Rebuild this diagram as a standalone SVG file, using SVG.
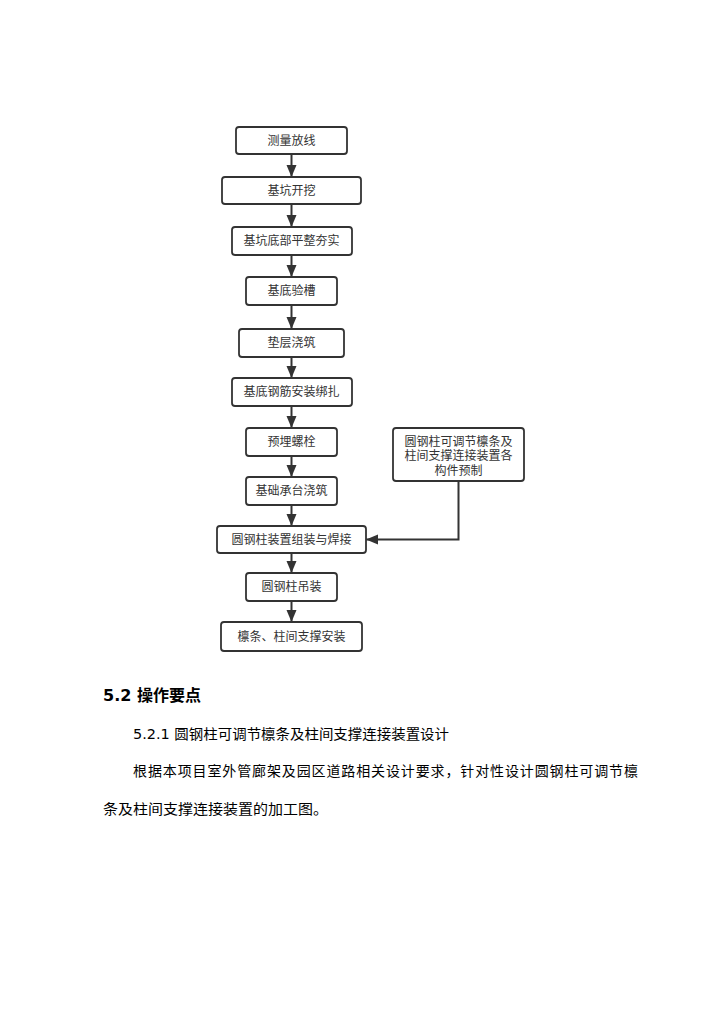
<svg xmlns="http://www.w3.org/2000/svg" width="724" height="1024" viewBox="0 0 724 1024">
<style>
.box{fill:#fff;stroke:#333;stroke-width:1.8}
.lbl{font-family:"Noto Sans CJK SC","DejaVu Sans",sans-serif;font-size:12px;fill:#333;text-anchor:middle}
.conn{stroke:#333;stroke-width:2;fill:none}
.body{font-family:"DejaVu Sans","Noto Sans CJK SC",sans-serif;font-size:14px;fill:#000}
.head{font-family:"DejaVu Sans","Noto Sans CJK SC",sans-serif;font-size:16px;font-weight:bold;fill:#000}
</style>
<defs>
<marker id="arr" markerUnits="userSpaceOnUse" markerWidth="12" markerHeight="12" viewBox="0 0 12 12" refX="12" refY="6" orient="auto">
<path d="M0,1 L12,6 L0,11 Z" fill="#333"/>
</marker>
</defs>
<rect width="724" height="1024" fill="#fff"/>
<g id="connectors">
<line class="conn" x1="291.5" y1="154" x2="291.5" y2="177" marker-end="url(#arr)"/>
<line class="conn" x1="291.5" y1="204" x2="291.5" y2="227" marker-end="url(#arr)"/>
<line class="conn" x1="291.5" y1="255" x2="291.5" y2="277" marker-end="url(#arr)"/>
<line class="conn" x1="291.5" y1="305" x2="291.5" y2="329" marker-end="url(#arr)"/>
<line class="conn" x1="291.5" y1="357" x2="291.5" y2="378" marker-end="url(#arr)"/>
<line class="conn" x1="291.5" y1="406" x2="291.5" y2="428" marker-end="url(#arr)"/>
<line class="conn" x1="291.5" y1="456" x2="291.5" y2="477" marker-end="url(#arr)"/>
<line class="conn" x1="291.5" y1="505" x2="291.5" y2="526" marker-end="url(#arr)"/>
<line class="conn" x1="291.5" y1="553" x2="291.5" y2="573" marker-end="url(#arr)"/>
<line class="conn" x1="291.5" y1="601" x2="291.5" y2="622" marker-end="url(#arr)"/>
<polyline class="conn" points="458.5,481 458.5,539.5 366,539.5" marker-end="url(#arr)"/>
</g>
<g id="n1"><rect class="box" x="236" y="127" width="111" height="27" rx="3"/><text class="lbl" x="291.5" y="144.5">测量放线</text></g>
<g id="n2"><rect class="box" x="222" y="177" width="139" height="27" rx="3"/><text class="lbl" x="291.5" y="194.5">基坑开挖</text></g>
<g id="n3"><rect class="box" x="232" y="227" width="120" height="28" rx="3"/><text class="lbl" x="291.5" y="245">基坑底部平整夯实</text></g>
<g id="n4"><rect class="box" x="246" y="277" width="91" height="28" rx="3"/><text class="lbl" x="291.5" y="295">基底验槽</text></g>
<g id="n5"><rect class="box" x="239" y="329" width="105" height="28" rx="3"/><text class="lbl" x="291.5" y="347">垫层浇筑</text></g>
<g id="n6"><rect class="box" x="232" y="378" width="120" height="28" rx="3"/><text class="lbl" x="291.5" y="396">基底钢筋安装绑扎</text></g>
<g id="n7"><rect class="box" x="246" y="428" width="91" height="28" rx="3"/><text class="lbl" x="291.5" y="446">预埋螺栓</text></g>
<g id="n8"><rect class="box" x="246" y="477" width="91" height="28" rx="3"/><text class="lbl" x="291.5" y="495">基础承台浇筑</text></g>
<g id="n9"><rect class="box" x="217" y="526" width="149" height="27" rx="3"/><text class="lbl" x="291.5" y="543.5">圆钢柱装置组装与焊接</text></g>
<g id="n10"><rect class="box" x="246" y="573" width="91" height="28" rx="3"/><text class="lbl" x="291.5" y="591">圆钢柱吊装</text></g>
<g id="n11"><rect class="box" x="221" y="622" width="141" height="29" rx="3"/><text class="lbl" x="291.5" y="640.5">檩条、柱间支撑安装</text></g>
<g id="n12"><rect class="box" x="393" y="428" width="131" height="53" rx="3"/>
<text class="lbl" x="458.5" y="445.5">圆钢柱可调节檩条及</text>
<text class="lbl" x="458.5" y="460">柱间支撑连接装置各</text>
<text class="lbl" x="458.5" y="474.5">构件预制</text></g>
<g id="text">
<text class="head" x="103" y="701">5.2 操作要点</text>
<text class="body" x="133" y="739" textLength="316" lengthAdjust="spacingAndGlyphs">5.2.1 圆钢柱可调节檩条及柱间支撑连接装置设计</text>
<text class="body" x="133" y="776" textLength="505" lengthAdjust="spacing">根据本项目室外管廊架及园区道路相关设计要求，针对性设计圆钢柱可调节檩</text>
<text class="body" x="103" y="814" textLength="225" lengthAdjust="spacingAndGlyphs">条及柱间支撑连接装置的加工图。</text>
</g>
</svg>
